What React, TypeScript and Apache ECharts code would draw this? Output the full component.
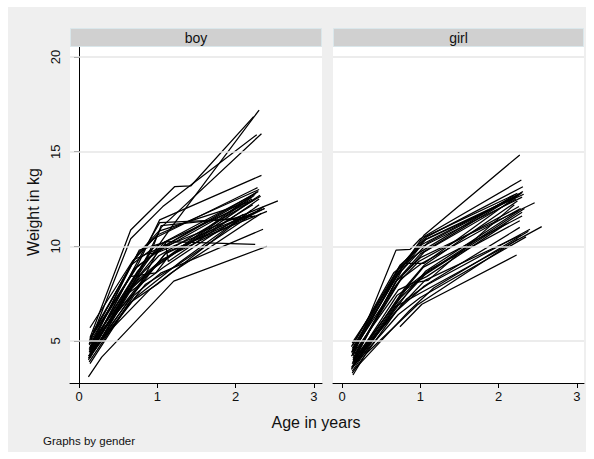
import React, { useEffect, useRef } from "react";
import * as echarts from "echarts";

const panelLabels = ["boy", "girl"];
const xTicks = [0, 1, 2, 3];
const yTicks = [5, 10, 15, 20];
const yTitle = "Weight in kg";
const xTitle = "Age in years";
const noteText = "Graphs by gender";

const boyAges: number[][] = [
  [0.14, 0.66, 1.22, 1.43, 2.23],
  [0.13, 0.66, 1.07, 2.27],
  [0.16, 0.82, 1.16, 2.3],
  [0.14, 0.86, 1.05, 2.33],
  [0.15, 0.76, 1.03, 2.33],
  [0.13, 0.8, 1.03, 2.12],
  [0.14, 0.72, 1.12, 2.25],
  [0.14, 0.75, 1.1, 1.14, 2.3],
  [0.12, 0.29, 1.21, 2.4],
  [0.13, 0.7, 1.05, 2.35],
  [0.14, 0.68, 0.95, 2.28],
  [0.15, 0.72, 1.0, 2.3],
  [0.13, 0.79, 1.02, 2.32],
  [0.16, 0.77, 1.08, 2.26],
  [0.12, 0.68, 1.06, 2.37],
  [0.14, 0.84, 1.12, 2.4],
  [0.17, 0.74, 1.04, 2.54],
  [0.13, 0.72, 1.0, 2.22],
  [0.15, 0.9, 1.18, 2.33],
  [0.14, 0.64, 1.0, 2.2],
  [0.12, 0.85, 1.25, 2.36],
  [0.14, 0.65, 0.98, 1.15, 2.28],
  [0.16, 0.7, 1.13, 2.2],
  [0.13, 0.66, 0.98, 2.17],
  [0.15, 0.88, 0.97, 2.24],
  [0.14, 0.62, 1.08, 2.1],
  [0.13, 0.93, 1.05, 2.25],
  [0.18, 0.75, 1.02, 2.22],
  [0.12, 0.72, 1.3, 2.3],
  [0.2, 0.9, 1.02, 2.37],
  [0.13, 0.6, 1.0, 2.31],
  [0.15, 0.8, 1.1, 2.3],
  [0.14, 0.7, 1.08, 2.29],
  [0.16, 0.78, 1.0, 2.21],
];
const boyWeights: number[][] = [
  [5.17, 10.86, 13.15, 13.2, 16.85],
  [4.84, 10.4, 12.1, 15.9],
  [4.6, 8.9, 10.9, 17.2],
  [4.3, 9.4, 11.0, 15.95],
  [5.0, 9.1, 11.4, 13.75],
  [4.4, 9.6, 11.25, 11.45],
  [4.1, 8.2, 10.25, 10.1],
  [4.7, 8.7, 10.25, 9.2, 12.5],
  [3.1, 4.15, 8.16, 10.0],
  [3.9, 7.4, 8.6, 10.9],
  [5.7, 9.2, 10.4, 13.1],
  [5.2, 9.4, 10.6, 13.0],
  [4.5, 8.5, 9.5, 12.65],
  [4.9, 9.8, 10.2, 12.8],
  [4.0, 7.8, 9.3, 12.0],
  [4.3, 8.3, 9.7, 11.85],
  [5.3, 8.9, 9.9, 12.4],
  [4.8, 8.1, 9.1, 12.2],
  [4.5, 7.7, 8.6, 11.75],
  [3.8, 7.0, 8.0, 11.9],
  [4.2, 8.0, 9.0, 12.1],
  [5.1, 8.4, 8.6, 9.5, 12.9],
  [4.6, 8.8, 10.1, 12.6],
  [5.0, 9.0, 10.0, 12.3],
  [4.7, 8.6, 8.9, 12.7],
  [4.4, 7.5, 8.9, 11.7],
  [4.6, 9.8, 11.1, 11.6],
  [5.5, 9.6, 10.8, 12.4],
  [4.1, 7.3, 9.2, 12.2],
  [4.5, 9.6, 9.7, 12.0],
  [4.2, 7.6, 9.0, 12.7],
  [4.9, 8.0, 9.6, 11.9],
  [4.6, 9.3, 10.0, 12.9],
  [4.3, 8.0, 9.7, 12.5],
];

const girlAges: number[][] = [
  [0.14, 0.69, 0.87, 1.0, 2.29],
  [0.13, 0.72, 1.05, 2.27],
  [0.15, 0.75, 1.08, 2.31],
  [0.13, 0.7, 1.02, 2.28],
  [0.14, 0.76, 1.1, 2.25],
  [0.12, 0.74, 0.98, 2.3],
  [0.16, 0.78, 1.05, 2.22],
  [0.13, 0.68, 1.0, 2.46],
  [0.14, 0.8, 1.05, 2.3],
  [0.15, 0.7, 0.95, 1.1, 2.2],
  [0.12, 0.8, 1.05, 2.24],
  [0.13, 0.72, 1.08, 2.33],
  [0.14, 0.75, 1.02, 2.3],
  [0.16, 0.85, 1.13, 2.27],
  [0.12, 0.68, 1.03, 2.55],
  [0.13, 0.7, 1.05, 2.27],
  [0.14, 0.82, 1.1, 2.4],
  [0.15, 0.76, 1.06, 2.29],
  [0.13, 0.72, 1.0, 2.35],
  [0.14, 0.3, 0.96, 2.25],
  [0.74, 1.02, 2.23],
  [0.12, 0.7, 0.98, 2.26],
  [0.14, 0.66, 0.96, 2.2],
  [0.15, 0.78, 1.04, 2.3],
  [0.13, 0.73, 1.08, 2.21],
  [0.16, 0.86, 1.17, 2.38],
  [0.12, 0.72, 1.08, 2.1],
  [0.14, 0.76, 1.02, 2.28],
  [0.13, 0.71, 1.04, 2.32],
  [0.15, 0.83, 1.07, 2.26],
  [0.13, 0.74, 1.06, 2.24],
  [0.14, 0.7, 1.0, 2.31],
];
const girlWeights: number[][] = [
  [4.2, 9.8, 9.84, 10.4, 13.5],
  [4.9, 8.6, 10.6, 14.83],
  [4.5, 8.8, 10.5, 13.15],
  [4.4, 8.4, 10.1, 12.8],
  [4.0, 8.7, 10.2, 12.7],
  [4.7, 9.0, 9.9, 12.6],
  [4.3, 8.5, 9.7, 12.5],
  [3.8, 8.1, 9.4, 12.3],
  [4.6, 9.1, 9.1, 12.85],
  [3.9, 7.4, 8.1, 8.2, 12.2],
  [3.6, 7.8, 9.0, 12.4],
  [3.4, 7.0, 8.6, 12.0],
  [3.7, 7.3, 8.4, 11.8],
  [4.1, 7.9, 8.8, 11.35],
  [3.5, 6.8, 7.6, 11.04],
  [3.3, 6.6, 7.9, 11.0],
  [3.8, 7.2, 8.0, 10.9],
  [4.0, 6.9, 8.2, 10.6],
  [3.6, 6.4, 7.3, 10.5],
  [3.2, 4.3, 6.9, 10.4],
  [5.75, 6.94, 9.54],
  [4.4, 8.0, 9.2, 12.1],
  [4.8, 8.6, 9.6, 12.7],
  [3.9, 7.6, 8.9, 11.6],
  [4.5, 8.9, 10.4, 12.6],
  [3.5, 6.6, 7.8, 10.8],
  [4.2, 7.7, 8.4, 11.2],
  [4.1, 8.3, 9.1, 12.0],
  [4.3, 8.6, 10.3, 12.75],
  [3.7, 7.5, 8.7, 11.9],
  [4.6, 8.9, 10.5, 12.8],
  [3.9, 8.2, 9.6, 12.9],
];

const FONT = "'Liberation Sans', Arial, Helvetica, sans-serif";
const TXT = "#111111";

export default function App() {
  const ref = useRef<HTMLDivElement>(null);
  useEffect(() => {
    document.body.style.margin = "0";
    const chart = echarts.init(ref.current!, null, { renderer: "svg" });

    const grids = [
      { left: 70, top: 47, width: 252, height: 336 },
      { left: 333, top: 47, width: 251, height: 336 },
    ];

    const makeSeries = (ages: number[][], weights: number[][], idx: number) =>
      ages.map((a, i) => ({
        type: "line",
        xAxisIndex: idx,
        yAxisIndex: idx,
        showSymbol: false,
        symbol: "none",
        silent: true,
        lineStyle: { color: "#000", width: 1.25 },
        data: a.map((v, j) => [v, weights[i][j]]),
        z: 3,
      }));

    const gridLineSeries = [0, 1].map((idx) => ({
      type: "line",
      xAxisIndex: idx,
      yAxisIndex: idx,
      data: [],
      silent: true,
      markLine: {
        silent: true,
        symbol: "none",
        label: { show: false },
        lineStyle: { color: "#e6e6e6", width: 1.5, type: "solid" },
        data: yTicks.map((t) => ({ yAxis: t })),
      },
      z: 1,
    }));

    const xAxes = [0, 1].map((idx) => ({
      type: "value",
      gridIndex: idx,
      min: -0.115,
      max: idx === 0 ? 3.103 : 3.09,
      axisLine: { show: true, lineStyle: { color: "#000", width: 1 } },
      axisTick: {
        show: true,
        length: 5,
        customValues: xTicks,
        lineStyle: { color: "#000" },
      },
      axisLabel: {
        show: true,
        customValues: xTicks,
        margin: 7,
        fontSize: 13,
        color: TXT,
        fontFamily: FONT,
      },
      splitLine: { show: false },
    }));

    const yAxes = [0, 1].map((idx) => ({
      type: "value",
      gridIndex: idx,
      min: 2.78,
      max: 20.53,
      axisLine: { show: idx === 0, lineStyle: { color: "#000", width: 1 } },
      axisTick: {
        show: idx === 0,
        length: 5,
        customValues: yTicks,
        lineStyle: { color: "#000" },
      },
      axisLabel: {
        show: idx === 0,
        customValues: yTicks,
        rotate: 90,
        margin: 8,
        fontSize: 13,
        color: TXT,
        fontFamily: FONT,
      },
      splitLine: { show: false },
    }));

    const headers = panelLabels.flatMap((lab, i) => {
      const g = grids[i];
      return [
        {
          type: "rect",
          z: 5,
          shape: { x: g.left + 0.5, y: 28.5, width: g.width - 1, height: 18 },
          style: { fill: "#d0d0d0", stroke: "#dae7eb", lineWidth: 1 },
        },
        {
          type: "text",
          z: 6,
          x: g.left + g.width / 2,
          y: 38,
          style: {
            text: lab,
            fill: TXT,
            font: `14px ${FONT}`,
            textAlign: "center",
            textVerticalAlign: "middle",
          },
        },
      ];
    });

    chart.setOption({
      animation: false,
      backgroundColor: "#ffffff",
      grid: grids.map((g) => ({
        ...g,
        show: true,
        backgroundColor: "#ffffff",
        borderWidth: 0,
        containLabel: false,
      })),
      xAxis: xAxes,
      yAxis: yAxes,
      graphic: [
        {
          type: "rect",
          z: -10,
          shape: { x: 8, y: 7, width: 578, height: 445 },
          style: { fill: "#efefef" },
        },
        ...headers,
        {
          type: "text",
          x: 33,
          y: 212,
          rotation: Math.PI / 2,
          style: {
            text: yTitle,
            fill: TXT,
            font: `16px ${FONT}`,
            textAlign: "center",
            textVerticalAlign: "middle",
          },
        },
        {
          type: "text",
          x: 316,
          y: 422,
          style: {
            text: xTitle,
            fill: TXT,
            font: `16px ${FONT}`,
            textAlign: "center",
            textVerticalAlign: "middle",
          },
        },
        {
          type: "text",
          x: 43,
          y: 441,
          style: {
            text: noteText,
            fill: TXT,
            font: `11.5px ${FONT}`,
            textAlign: "left",
            textVerticalAlign: "middle",
          },
        },
      ],
      series: [
        ...gridLineSeries,
        ...makeSeries(boyAges, boyWeights, 0),
        ...makeSeries(girlAges, girlWeights, 1),
      ],
    });
    return () => chart.dispose();
  }, []);
  return <div ref={ref} style={{ width: 594, height: 459 }} />;
}
